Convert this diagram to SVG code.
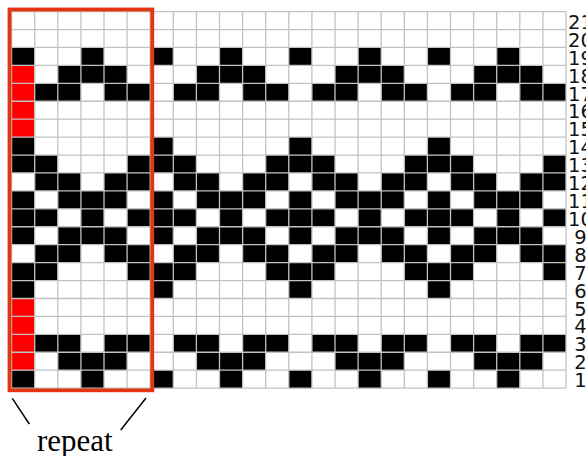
<svg xmlns="http://www.w3.org/2000/svg" xmlns:xlink="http://www.w3.org/1999/xlink" width="586" height="456" viewBox="0 0 586 456">
<style>
.blk{fill:#000000}
.red{fill:#ff0000}
.grid{fill:none;stroke:#c2c2c2;stroke-width:1.3;vector-effect:non-scaling-stroke}
.box{fill:none;stroke:#e33512;stroke-width:3.8}
.lbl{font-family:"DejaVu Sans",sans-serif;font-size:19.5px;fill:#111;text-anchor:middle}
.tick{stroke:#000;stroke-width:1.5;fill:none}
</style>
<defs>
<path id="rep" class="blk" d="M0 2h1v1h-1z M3 2h1v1h-1z M2 3h3v1h-3z M1 4h2v1h-2z M4 4h2v1h-2z M0 7h1v1h-1z M0 8h2v1h-2z M5 8h1v1h-1z M1 9h2v1h-2z M4 9h2v1h-2z M0 10h1v1h-1z M2 10h3v1h-3z M0 11h2v1h-2z M3 11h1v1h-1z M5 11h1v1h-1z M0 12h1v1h-1z M2 12h3v1h-3z M1 13h2v1h-2z M4 13h2v1h-2z M0 14h2v1h-2z M5 14h1v1h-1z M0 15h1v1h-1z M1 18h2v1h-2z M4 18h2v1h-2z M2 19h3v1h-3z M0 20h1v1h-1z M3 20h1v1h-1z"/>
</defs>
<rect width="586" height="456" fill="#ffffff"/>
<g id="chart" transform="translate(11.6 11.6) scale(23.1 17.93)">
<g id="cells">
<use xlink:href="#rep" href="#rep" x="0" y="0"/>
<use xlink:href="#rep" href="#rep" x="6" y="0"/>
<use xlink:href="#rep" href="#rep" x="12" y="0"/>
<use xlink:href="#rep" href="#rep" x="18" y="0"/>
<path class="red" d="M0 3h1v4h-1z M0 16h1v4h-1z"/>
</g>
<path id="gridlines" class="grid" d="M0 0V21 M1 0V21 M2 0V21 M3 0V21 M4 0V21 M5 0V21 M6 0V21 M7 0V21 M8 0V21 M9 0V21 M10 0V21 M11 0V21 M12 0V21 M13 0V21 M14 0V21 M15 0V21 M16 0V21 M17 0V21 M18 0V21 M19 0V21 M20 0V21 M21 0V21 M22 0V21 M23 0V21 M24 0V21 M0 0H24 M0 1H24 M0 2H24 M0 3H24 M0 4H24 M0 5H24 M0 6H24 M0 7H24 M0 8H24 M0 9H24 M0 10H24 M0 11H24 M0 12H24 M0 13H24 M0 14H24 M0 15H24 M0 16H24 M0 17H24 M0 18H24 M0 19H24 M0 20H24 M0 21H24"/>
</g>
<rect id="repeat-box" class="box" x="9.5" y="9.5" width="142.8" height="380.8"/>
<g id="row-labels" class="lbl">
<text x="580.5" y="28.8">21</text>
<text x="580.5" y="46.7">20</text>
<text x="580.5" y="64.6">19</text>
<text x="580.5" y="82.6">18</text>
<text x="580.5" y="100.5">17</text>
<text x="580.5" y="118.4">16</text>
<text x="580.5" y="136.3">15</text>
<text x="580.5" y="154.2">14</text>
<text x="580.5" y="172.2">13</text>
<text x="580.5" y="190.1">12</text>
<text x="580.5" y="208.0">11</text>
<text x="580.5" y="225.9">10</text>
<text x="580.5" y="243.8">9</text>
<text x="580.5" y="261.8">8</text>
<text x="580.5" y="279.7">7</text>
<text x="580.5" y="297.6">6</text>
<text x="580.5" y="315.5">5</text>
<text x="580.5" y="333.4">4</text>
<text x="580.5" y="351.4">3</text>
<text x="580.5" y="369.3">2</text>
<text x="580.5" y="387.2">1</text>
</g>
<g id="repeat-note">
<line class="tick" x1="12.3" y1="398.3" x2="29.3" y2="424"/>
<line class="tick" x1="146" y1="398" x2="120.7" y2="430"/>
<text x="37" y="450.7" font-family="Liberation Serif" font-size="31" fill="#000">repeat</text>
</g>
</svg>
